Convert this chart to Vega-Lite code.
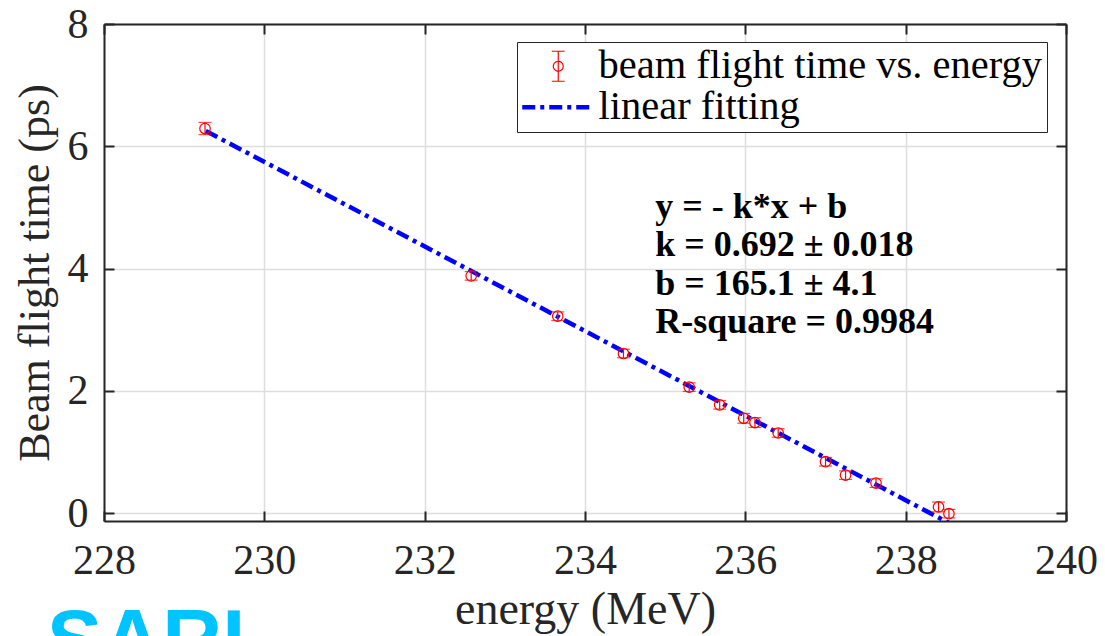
{
  "$schema": "https://vega.github.io/schema/vega-lite/v6.json",
  "width": 962,
  "height": 497,
  "autosize": {"type": "none"},
  "padding": {"left": 104, "top": 24, "right": 39, "bottom": 115},
  "background": "white",
  "config": {"view": {"stroke": null}, "font": "Liberation Serif"},
  "title": {
    "text": "SARI",
    "orient": "bottom",
    "anchor": "start",
    "frame": "group",
    "font": "Liberation Sans",
    "fontWeight": "bold",
    "fontSize": 83,
    "color": "#00c4ff",
    "baseline": "top",
    "offset": -30,
    "dx": -57
  },
  "datasets": {
    "pts": [
      {"x": 229.26, "y": 6.29, "err": 0.1, "series": "beam flight time vs. energy"},
      {"x": 232.58, "y": 3.88, "err": 0.07, "series": "beam flight time vs. energy"},
      {"x": 233.66, "y": 3.22, "err": 0.07, "series": "beam flight time vs. energy"},
      {"x": 234.48, "y": 2.61, "err": 0.07, "series": "beam flight time vs. energy"},
      {"x": 235.3, "y": 2.06, "err": 0.07, "series": "beam flight time vs. energy"},
      {"x": 235.68, "y": 1.77, "err": 0.07, "series": "beam flight time vs. energy"},
      {"x": 235.98, "y": 1.55, "err": 0.08, "series": "beam flight time vs. energy"},
      {"x": 236.12, "y": 1.48, "err": 0.08, "series": "beam flight time vs. energy"},
      {"x": 236.41, "y": 1.31, "err": 0.07, "series": "beam flight time vs. energy"},
      {"x": 237.0, "y": 0.84, "err": 0.07, "series": "beam flight time vs. energy"},
      {"x": 237.25, "y": 0.62, "err": 0.07, "series": "beam flight time vs. energy"},
      {"x": 237.63, "y": 0.49, "err": 0.07, "series": "beam flight time vs. energy"},
      {"x": 238.41, "y": 0.1, "err": 0.08, "series": "beam flight time vs. energy"},
      {"x": 238.54, "y": -0.01, "err": 0.07, "series": "beam flight time vs. energy"}
    ],
    "fit": [
      {"x": 229.27, "y": 6.25, "series": "linear fitting"},
      {"x": 238.55, "y": -0.17, "series": "linear fitting"}
    ],
    "note": [
      {"note": "y = - k*x + b\nk = 0.692 ± 0.018\nb = 165.1 ± 4.1\nR-square = 0.9984"}
    ]
  },
  "layer": [
    {
      "data": {"name": "fit"},
      "mark": {"type": "line", "color": "#0000ff", "strokeWidth": 4.5, "strokeDash": [13, 5, 4, 5], "clip": true},
      "encoding": {
        "x": {
          "field": "x",
          "type": "quantitative",
          "scale": {"domain": [228, 240], "nice": false, "zero": false},
          "axis": {
            "orient": "bottom",
            "values": [228, 230, 232, 234, 236, 238, 240],
            "format": "d",
            "grid": true,
            "gridColor": "#dedede",
            "gridWidth": 1.5,
            "domainColor": "#262626",
            "domainWidth": 2,
            "tickColor": "#262626",
            "tickWidth": 2,
            "tickSize": -10,
            "labelFont": "Liberation Serif",
            "labelFontSize": 42,
            "labelColor": "#262626",
            "labelPadding": 29,
            "labelFlush": false,
            "labelOverlap": false,
            "title": "energy (MeV)",
            "titleFont": "Liberation Serif",
            "titleFontSize": 46,
            "titleFontWeight": "normal",
            "titleColor": "#262626",
            "titlePadding": 6
          }
        },
        "y": {
          "field": "y",
          "type": "quantitative",
          "scale": {"domain": [-0.13, 8], "nice": false, "zero": false},
          "axis": {
            "orient": "left",
            "values": [0, 2, 4, 6, 8],
            "format": "d",
            "grid": true,
            "gridColor": "#dedede",
            "gridWidth": 1.5,
            "domainColor": "#262626",
            "domainWidth": 2,
            "tickColor": "#262626",
            "tickWidth": 2,
            "tickSize": -10,
            "labelFont": "Liberation Serif",
            "labelFontSize": 42,
            "labelColor": "#262626",
            "labelPadding": 26,
            "labelFlush": false,
            "labelOverlap": false,
            "title": "Beam flight time (ps)",
            "titleFont": "Liberation Serif",
            "titleFontSize": 44,
            "titleFontWeight": "normal",
            "titleColor": "#262626",
            "titlePadding": 10
          }
        },
        "color": {
          "field": "series",
          "type": "nominal",
          "scale": {"domain": ["beam flight time vs. energy", "linear fitting"], "range": ["#ff0000", "#0000ff"]},
          "legend": {
            "orient": "none",
            "legendX": 413,
            "legendY": 18,
            "title": null,
            "labelFont": "Liberation Serif",
            "labelFontSize": 40.5,
            "labelColor": "#000000",
            "labelOffset": 20,
            "labelLimit": 0,
            "symbolOffset": 17,
            "symbolSize": 900,
            "strokeColor": "#262626",
            "fillColor": "#ffffff",
            "padding": 4,
            "rowPadding": 0,
            "encode": {
              "symbols": {
                "update": {
                  "shape": {"signal": "datum.value === 'linear fitting' ? 'M-2.4,0H2.4' : 'M-0.43,-1H0.43M0,-1V1M-0.43,1H0.43M-0.33,0A0.33,0.33,0,1,0,0.33,0A0.33,0.33,0,1,0,-0.33,0'"},
                  "size": {"value": 900},
                  "strokeWidth": {"signal": "datum.value === 'linear fitting' ? 4.5 : 1.2"},
                  "strokeDash": {"signal": "datum.value === 'linear fitting' ? [13,5,4,5] : [1,0]"},
                  "fill": {"value": "transparent"},
                  "opacity": {"value": 1}
                }
              }
            }
          }
        }
      }
    },
    {
      "data": {"name": "pts"},
      "mark": {"type": "errorbar", "color": "#ff0000", "thickness": 1.2, "ticks": {"size": 13, "color": "#ff0000", "thickness": 1.2}},
      "encoding": {
        "x": {"field": "x", "type": "quantitative", "axis": null},
        "y": {"field": "y", "type": "quantitative", "axis": null},
        "yError": {"field": "err"}
      }
    },
    {
      "data": {"name": "pts"},
      "mark": {"type": "point", "shape": "circle", "filled": false, "size": 110, "strokeWidth": 1.2, "opacity": 1},
      "encoding": {
        "x": {"field": "x", "type": "quantitative", "axis": null},
        "y": {"field": "y", "type": "quantitative", "axis": null},
        "color": {
          "field": "series",
          "type": "nominal",
          "scale": {"domain": ["beam flight time vs. energy", "linear fitting"], "range": ["#ff0000", "#0000ff"]},
          "legend": {
            "orient": "none",
            "legendX": 413,
            "legendY": 18,
            "title": null,
            "labelFont": "Liberation Serif",
            "labelFontSize": 40.5,
            "labelColor": "#000000",
            "labelOffset": 20,
            "labelLimit": 0,
            "symbolOffset": 17,
            "symbolSize": 900,
            "strokeColor": "#262626",
            "fillColor": "#ffffff",
            "padding": 4,
            "rowPadding": 0,
            "encode": {
              "symbols": {
                "update": {
                  "shape": {"signal": "datum.value === 'linear fitting' ? 'M-2.4,0H2.4' : 'M-0.43,-1H0.43M0,-1V1M-0.43,1H0.43M-0.33,0A0.33,0.33,0,1,0,0.33,0A0.33,0.33,0,1,0,-0.33,0'"},
                  "size": {"value": 900},
                  "strokeWidth": {"signal": "datum.value === 'linear fitting' ? 4.5 : 1.2"},
                  "strokeDash": {"signal": "datum.value === 'linear fitting' ? [13,5,4,5] : [1,0]"},
                  "fill": {"value": "transparent"},
                  "opacity": {"value": 1}
                }
              }
            }
          }
        }
      }
    },
    {
      "data": {"name": "note"},
      "mark": {"type": "text", "font": "Liberation Serif", "fontWeight": "bold", "fontSize": 36, "align": "left", "baseline": "alphabetic", "lineBreak": "\n", "lineHeight": 38.5, "color": "#000000"},
      "encoding": {
        "x": {"datum": 234.875, "type": "quantitative", "axis": null},
        "y": {"datum": 4.83, "type": "quantitative", "axis": null},
        "text": {"field": "note", "type": "nominal"}
      }
    },
    {
      "data": {"name": "pts"},
      "mark": {"type": "point", "opacity": 0},
      "encoding": {
        "x": {
          "field": "x",
          "type": "quantitative",
          "axis": {
            "orient": "top",
            "values": [228, 230, 232, 234, 236, 238, 240],
            "grid": false,
            "labels": false,
            "title": null,
            "domainColor": "#262626",
            "domainWidth": 2,
            "tickColor": "#262626",
            "tickWidth": 2,
            "tickSize": -10
          }
        },
        "y": {
          "field": "y",
          "type": "quantitative",
          "axis": {
            "orient": "right",
            "values": [0, 2, 4, 6, 8],
            "grid": false,
            "labels": false,
            "title": null,
            "domainColor": "#262626",
            "domainWidth": 2,
            "tickColor": "#262626",
            "tickWidth": 2,
            "tickSize": -10
          }
        }
      }
    }
  ],
  "resolve": {"axis": {"x": "independent", "y": "independent"}}
}
